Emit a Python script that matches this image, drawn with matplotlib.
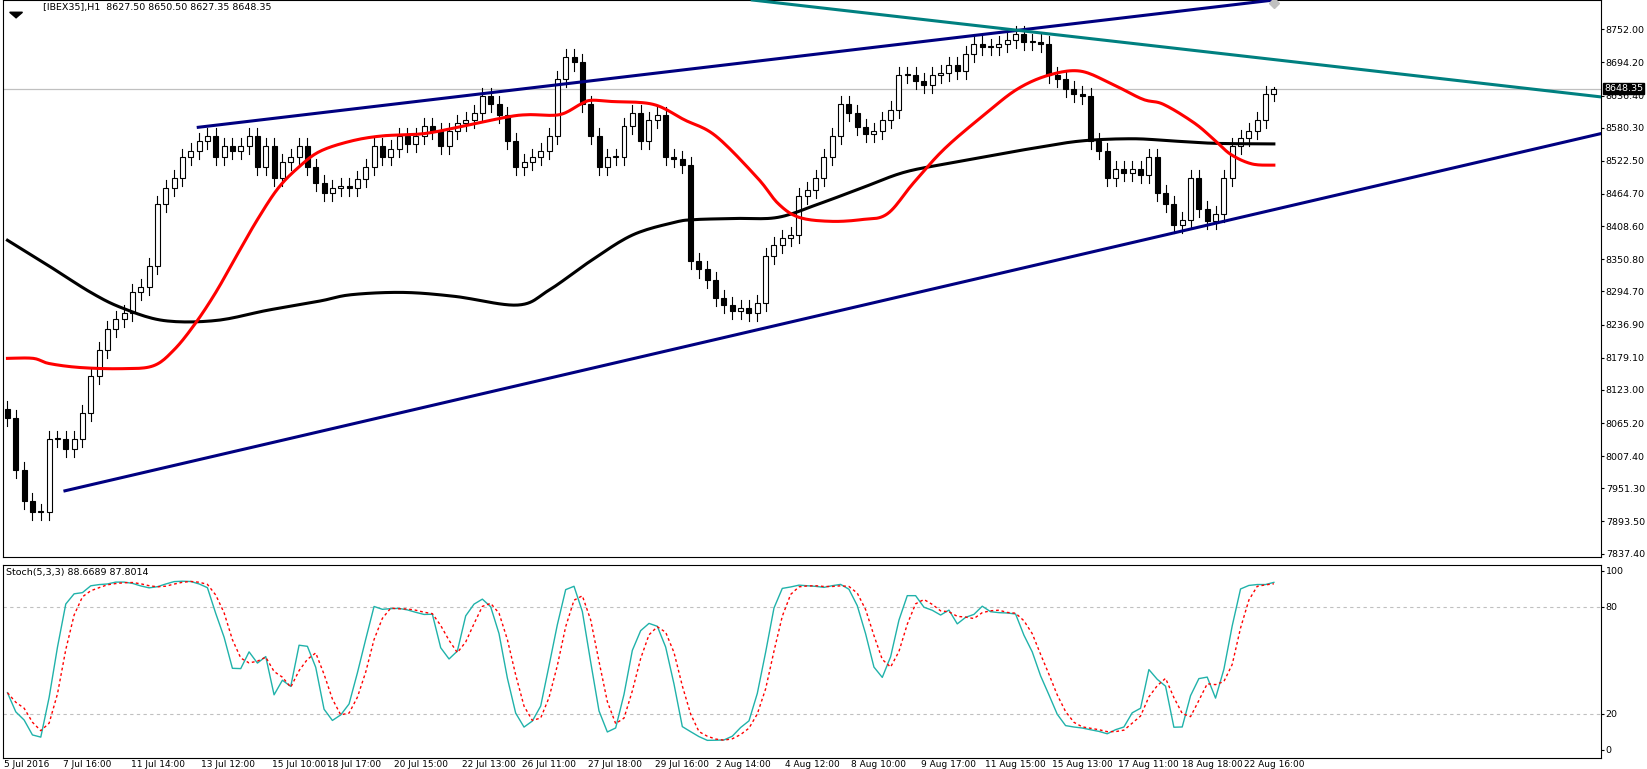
import matplotlib
matplotlib.use("Agg")
import matplotlib.pyplot as plt
import numpy as np
from matplotlib.patches import Rectangle

# hourly closes of IBEX35 (one value per ~2 bars)
closes = [
    8074, 7983, 7929, 7910, 7910, 8038, 8038, 8020, 8038, 8083, 8147, 8193, 8229, 8247, 8257, 8293,
    8302, 8339, 8448, 8475, 8493, 8530, 8539, 8557, 8566, 8530, 8548, 8539, 8548, 8566, 8512, 8548,
    8493, 8521, 8530, 8548, 8512, 8484, 8466, 8475, 8479, 8475, 8490, 8512, 8548, 8530, 8544, 8566,
    8552, 8566, 8584, 8575, 8548, 8575, 8588, 8594, 8606, 8635, 8621, 8603, 8557, 8512, 8521, 8530,
    8539, 8566, 8666, 8703, 8694, 8621, 8566, 8512, 8530, 8530, 8584, 8606, 8557, 8594, 8603, 8530,
    8526, 8515, 8348, 8333, 8315, 8284, 8271, 8260, 8266, 8257, 8275, 8357, 8375, 8388, 8393, 8461,
    8472, 8493, 8530, 8566, 8621, 8606, 8581, 8570, 8575, 8594, 8612, 8672, 8672, 8661, 8654, 8672,
    8676, 8690, 8679, 8708, 8727, 8721, 8721, 8727, 8734, 8743, 8730, 8730, 8727, 8672, 8666, 8648,
    8639, 8635, 8557, 8539, 8493, 8508, 8502, 8508, 8497, 8530, 8466, 8448, 8411, 8420, 8493, 8439,
    8417, 8430, 8493, 8548, 8563, 8575, 8594, 8639, 8648.35,
]
first_open = 8090
wick = 14

# moving averages (bar index, price)
ma_slow_x = [0, 5, 10, 13.75, 18.75, 25, 31.25, 37.5, 41.25, 47.5, 53.75, 61.25, 65, 70, 75, 80,
             82.5, 87.5, 92.5, 97.5, 102.5, 107.5, 112.5, 117.5, 122.5, 128.75, 135, 140, 145, 152]
ma_slow_y = [8384, 8339, 8293, 8266, 8244, 8244, 8262, 8278, 8289, 8293, 8286, 8271, 8297, 8348,
             8393, 8415, 8420, 8422, 8424, 8448, 8475, 8502, 8517, 8530, 8543, 8557, 8561, 8557,
             8553, 8552]
ma_fast_x = [0, 3.1, 5, 8.75, 13.75, 17.5, 20, 22.5, 25, 27.5, 30, 32.5, 35, 37.5, 41.25, 45, 50,
             55, 60, 62.5, 66.25, 68.75, 70, 72.5, 77.5, 81.25, 85, 90, 92.5, 95, 98.75, 102.5,
             105.6, 108.75, 112.5, 117.5, 121.25, 125, 128.75, 132.5, 136.25, 138.75, 142.5, 145,
             146.9, 149.4, 152]
ma_fast_y = [8178, 8178, 8169, 8162, 8160, 8165, 8193, 8238, 8293, 8357, 8420, 8475, 8512, 8539,
             8557, 8566, 8570, 8584, 8599, 8603, 8603, 8621, 8628, 8626, 8621, 8594, 8566, 8493,
             8448, 8424, 8417, 8420, 8430, 8484, 8544, 8606, 8648, 8672, 8679, 8657, 8630, 8621,
             8588, 8557, 8533, 8517, 8515]

# trendlines (bar index, price)
upper_line = ([22.9, 152], [8581, 8803])
lower_line = ([6.9, 191.25], [7947, 8570])
teal_line = ([89.4, 191.25], [8803, 8634])

price_ticks = [8752.00, 8694.20, 8636.40, 8580.30, 8522.50, 8464.70, 8408.60, 8350.80, 8294.70,
               8236.90, 8179.10, 8123.00, 8065.20, 8007.40, 7951.30, 7893.50, 7837.40]
date_labels = ["5 Jul 2016", "7 Jul 16:00", "11 Jul 14:00", "13 Jul 12:00", "15 Jul 10:00",
               "18 Jul 17:00", "20 Jul 15:00", "22 Jul 13:00", "26 Jul 11:00", "27 Jul 18:00",
               "29 Jul 16:00", "2 Aug 14:00", "4 Aug 12:00", "8 Aug 10:00", "9 Aug 17:00",
               "11 Aug 15:00", "15 Aug 13:00", "17 Aug 11:00", "18 Aug 18:00", "22 Aug 16:00"]
date_bars = [2.3, 9.6, 18.1, 26.5, 35.0, 41.6, 49.6, 57.8, 65.0, 72.9, 81.0, 88.3, 96.6, 104.5,
             112.9, 121.0, 129.0, 136.9, 144.6, 152.1]

opens = [first_open] + closes[:-1]
highs = [max(o, c) + wick for o, c in zip(opens, closes)]
lows = [min(o, c) - wick for o, c in zip(opens, closes)]
highs[-1] = 8650.5
lows[-1] = 8627.35

# slow stochastic 5,3,3
n = len(closes)
raw = []
for i in range(n):
    hh = max(highs[max(0, i - 4):i + 1])
    ll = min(lows[max(0, i - 4):i + 1])
    raw.append(100 * (closes[i] - ll) / (hh - ll))
k = [np.mean(raw[max(0, i - 2):i + 1]) for i in range(n)]
d = [np.mean(k[max(0, i - 2):i + 1]) for i in range(n)]


def smooth(xs, ys):
    # Catmull-Rom resampling so the averages look like curves, not polylines
    xs, ys = np.asarray(xs, float), np.asarray(ys, float)
    px = np.concatenate([[xs[0]], xs, [xs[-1]]])
    py = np.concatenate([[ys[0]], ys, [ys[-1]]])
    outx, outy = [], []
    t = np.linspace(0, 1, 12, endpoint=False)
    for i in range(1, len(px) - 2):
        for p, out in ((px, outx), (py, outy)):
            p0, p1, p2, p3 = p[i - 1], p[i], p[i + 1], p[i + 2]
            out.extend(0.5 * (2 * p1 + (-p0 + p2) * t + (2 * p0 - 5 * p1 + 4 * p2 - p3) * t ** 2
                              + (-p0 + 3 * p1 - 3 * p2 + p3) * t ** 3))
    outx.append(xs[-1])
    outy.append(ys[-1])
    return outx, outy


FS = 6.8
fig = plt.figure(figsize=(16.47, 7.69), dpi=100)
ax = fig.add_axes([0.002, 0.276, 0.970, 0.724])
ax2 = fig.add_axes([0.002, 0.0137, 0.970, 0.252])
xmax = 191.25

for i in range(n):
    o, c = opens[i], closes[i]
    ax.plot([i, i], [lows[i], highs[i]], color="black", linewidth=0.8, zorder=2)
    up = c >= o
    ax.add_patch(Rectangle((i - 0.3, min(o, c)), 0.6, max(abs(c - o), 1.5),
                           facecolor="white" if up else "black", edgecolor="black",
                           linewidth=0.8, zorder=3))

ax.plot(*smooth(ma_slow_x, ma_slow_y), color="black", linewidth=2.2, zorder=4)
ax.plot(*smooth(ma_fast_x, ma_fast_y), color="#ff0000", linewidth=2.2, zorder=4)
ax.plot(*upper_line, color="#000080", linewidth=2.2, zorder=5)
ax.plot(*lower_line, color="#000080", linewidth=2.2, zorder=5)
ax.plot(*teal_line, color="#008080", linewidth=2.2, zorder=5)
ax.plot([152], [8798], marker="D", color="#c0c0c0", markersize=5, zorder=6)
ax.axhline(closes[-1], color="#c0c0c0", linewidth=0.9, zorder=1)

ax.set_xlim(-0.5, xmax)
ax.set_ylim(7832, 8803)
ax.yaxis.tick_right()
ax.set_yticks(price_ticks)
ax.set_yticklabels([f"{t:.2f}" for t in price_ticks], fontsize=FS)
ax.tick_params(axis="y", length=2, pad=1.5)
ax.set_xticks([])
ax.text(xmax + 0.4, closes[-1], f"{closes[-1]:.2f}", fontsize=FS, color="white",
        va="center", ha="left", bbox=dict(facecolor="black", edgecolor="black", pad=0.8),
        zorder=10, clip_on=False)
ax.text(0.025, 0.995, "[IBEX35],H1  8627.50 8650.50 8627.35 8648.35", transform=ax.transAxes,
        fontsize=FS, va="top", ha="left")
ax.fill([0.004, 0.012, 0.008], [0.978, 0.978, 0.968], transform=ax.transAxes, color="black")

x = np.arange(n)
ax2.axhline(80, color="#c0c0c0", linestyle=(0, (3, 3)), linewidth=0.8)
ax2.axhline(20, color="#c0c0c0", linestyle=(0, (3, 3)), linewidth=0.8)
ax2.plot(x, k, color="#20b2aa", linewidth=1.0)
ax2.plot(x, d, color="#ff0000", linewidth=1.0, linestyle=(0, (2, 2)))
ax2.set_xlim(-0.5, xmax)
ax2.set_ylim(-5, 103.5)
ax2.yaxis.tick_right()
ax2.set_yticks([100, 80, 20, 0])
ax2.set_yticklabels(["100", "80", "20", "0"], fontsize=FS)
ax2.tick_params(axis="y", length=2, pad=1.5)
ax2.set_xticks(date_bars)
ax2.set_xticklabels(date_labels, fontsize=6.5)
ax2.tick_params(axis="x", length=0, pad=1)
ax2.text(0.002, 0.985, "Stoch(5,3,3) 88.6689 87.8014", transform=ax2.transAxes,
         fontsize=FS, va="top", ha="left")

for a in (ax, ax2):
    for s in a.spines.values():
        s.set_color("black")
        s.set_linewidth(0.8)

fig.savefig("out.png", dpi=100)
